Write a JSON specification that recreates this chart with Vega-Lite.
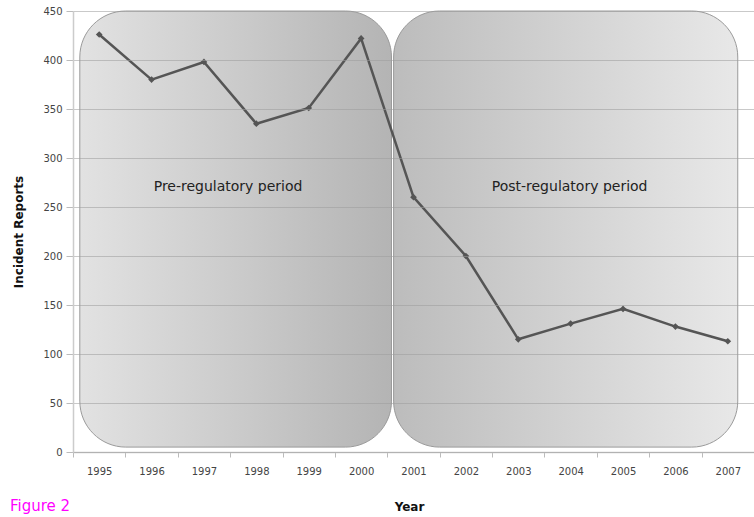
{
  "$schema": "https://vega.github.io/schema/vega-lite/v6.json",
  "width": 681,
  "height": 441,
  "autosize": {"type": "none"},
  "padding": {"left": 73, "top": 11, "right": 0, "bottom": 65},
  "background": "white",
  "config": {"font": "DejaVu Sans", "view": {"stroke": null}},
  "title": {"text": "Figure 2", "orient": "bottom", "anchor": "start", "frame": "group", "color": "#ff00ff", "fontSize": 15, "fontWeight": "normal", "font": "DejaVu Sans", "dx": -63, "dy": -17},
  "datasets": {
    "series": [
      {"year": 1995, "reports": 426},
      {"year": 1996, "reports": 380},
      {"year": 1997, "reports": 398},
      {"year": 1998, "reports": 335},
      {"year": 1999, "reports": 351},
      {"year": 2000, "reports": 422},
      {"year": 2001, "reports": 260},
      {"year": 2002, "reports": 200},
      {"year": 2003, "reports": 115},
      {"year": 2004, "reports": 131},
      {"year": 2005, "reports": 146},
      {"year": 2006, "reports": 128},
      {"year": 2007, "reports": 113}
    ],
    "periods": [
      {"period": "Pre-regulatory period", "start": 1994.63, "end": 2000.58, "low": 5, "high": 450, "mid": 1997.46, "labelY": 270},
      {"period": "Post-regulatory period", "start": 2000.62, "end": 2007.19, "low": 5, "high": 450, "mid": 2003.98, "labelY": 270}
    ]
  },
  "layer": [
    {
      "data": {"name": "periods"},
      "transform": [{"filter": "datum.period === 'Pre-regulatory period'"}],
      "mark": {"type": "rect", "cornerRadius": 46, "stroke": "#9a9a9a", "strokeWidth": 1,
        "fill": {"gradient": "linear", "x1": 0, "x2": 1, "y1": 0, "y2": 0, "stops": [{"offset": 0, "color": "#e2e2e2"}, {"offset": 1, "color": "#b4b4b4"}]}},
      "encoding": {
        "x": {"field": "start", "type": "quantitative", "scale": {"domain": [1994.5, 2007.5], "nice": false, "zero": false},
          "axis": {"values": [1995,1996,1997,1998,1999,2000,2001,2002,2003,2004,2005,2006,2007], "format": "d", "title": "Year", "grid": false,
            "tickOffset": -26.2, "labelOffset": 26.2, "tickSize": 5, "tickColor": "#bbbbbb", "domainColor": "#cccccc", "domainWidth": 1.5,
            "labelFontSize": 10, "labelColor": "#444444", "labelPadding": 9, "titleFontSize": 12, "titleFontWeight": "bold", "titleColor": "#111111", "titlePadding": 25, "titleX": 336}},
        "x2": {"field": "end"},
        "y": {"field": "low", "type": "quantitative", "scale": {"domain": [0, 450], "nice": false},
          "axis": {"values": [0,50,100,150,200,250,300,350,400,450], "title": "Incident Reports", "grid": true, "gridColor": "#9c9c9c", "gridOpacity": 0.55, "gridWidth": 1.2, "zindex": 1,
            "tickSize": 7, "tickColor": "#bbbbbb", "domainColor": "#cccccc", "domainWidth": 1.5, "labelFontSize": 10, "labelColor": "#444444", "labelPadding": 4,
            "titleFontSize": 12, "titleFontWeight": "bold", "titleColor": "#111111", "titlePadding": 17}},
        "y2": {"field": "high"}
      }
    },
    {
      "data": {"name": "periods"},
      "transform": [{"filter": "datum.period === 'Post-regulatory period'"}],
      "mark": {"type": "rect", "cornerRadius": 46, "stroke": "#9a9a9a", "strokeWidth": 1,
        "fill": {"gradient": "linear", "x1": 0, "x2": 1, "y1": 0, "y2": 0, "stops": [{"offset": 0, "color": "#bcbcbc"}, {"offset": 1, "color": "#e8e8e8"}]}},
      "encoding": {
        "x": {"field": "start", "type": "quantitative"},
        "x2": {"field": "end"},
        "y": {"field": "low", "type": "quantitative"},
        "y2": {"field": "high"}
      }
    },
    {
      "data": {"name": "periods"},
      "mark": {"type": "text", "fontSize": 14, "color": "#222222", "font": "DejaVu Sans"},
      "encoding": {
        "x": {"field": "mid", "type": "quantitative"},
        "y": {"field": "labelY", "type": "quantitative"},
        "text": {"field": "period"}
      }
    },
    {
      "data": {"name": "series"},
      "mark": {"type": "line", "color": "#555555", "strokeWidth": 2.5},
      "encoding": {
        "x": {"field": "year", "type": "quantitative"},
        "y": {"field": "reports", "type": "quantitative"}
      }
    },
    {
      "data": {"name": "series"},
      "mark": {"type": "point", "shape": "diamond", "filled": true, "color": "#555555", "size": 45, "opacity": 1},
      "encoding": {
        "x": {"field": "year", "type": "quantitative"},
        "y": {"field": "reports", "type": "quantitative"}
      }
    }
  ]
}
